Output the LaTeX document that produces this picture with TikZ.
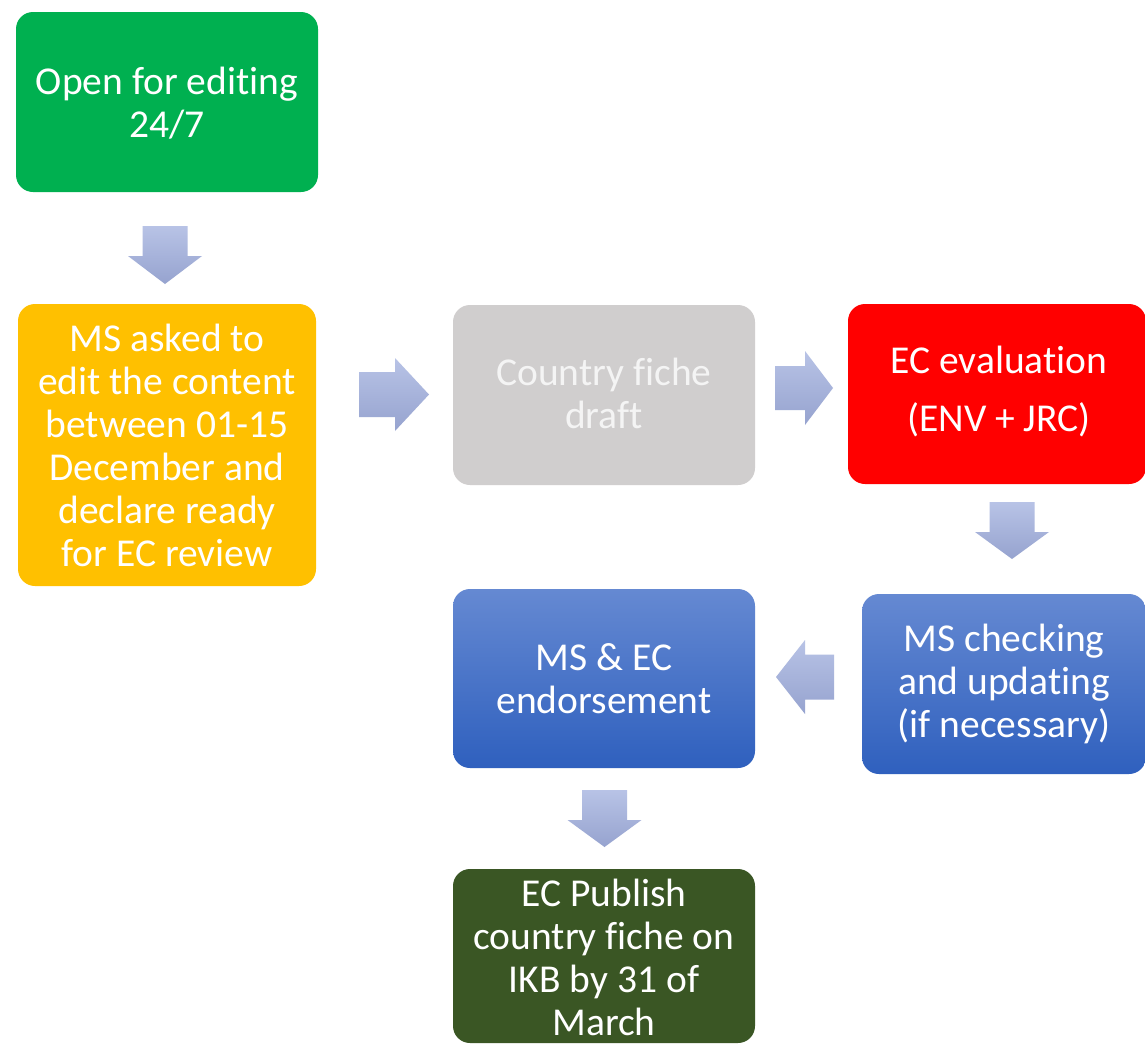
\documentclass[tikz,border=0pt]{standalone}
\usepackage{fontspec}
\setmainfont[Ligatures={NoCommon,NoContextual}]{Carlito}
\definecolor{cgreen}{HTML}{00B050}
\definecolor{corange}{HTML}{FFC000}
\definecolor{cgray}{HTML}{D0CECE}
\definecolor{cred}{HTML}{FF0000}
\definecolor{cbluetop}{HTML}{6589D2}
\definecolor{cbluebot}{HTML}{2F60BE}
\definecolor{cdkgreen}{HTML}{3A5624}
\definecolor{carrtop}{HTML}{B8C3E6}
\definecolor{carrbot}{HTML}{96A3CF}
\definecolor{cdrafttext}{HTML}{F4F4F4}
\tikzset{
  stepbox/.style={rectangle, rounded corners=17, draw=none, inner sep=0,
    align=center, text=white, font=\fontsize{39.5}{43}\selectfont},
  bluebox/.style={stepbox, top color=cbluetop, bottom color=cbluebot},
  arrowfill/.style={top color=carrtop, bottom color=carrbot, draw=none},
}
\begin{document}
\begin{tikzpicture}[x=1pt,y=-1pt]
\useasboundingbox (0,0) rectangle (1145,1044);
\fill[white] (0,0) rectangle (1145,1044);

\node[stepbox, fill=cgreen, minimum width=302, minimum height=180] (open) at (167,102) {};
\node[stepbox] (opent) at (167,103) {Open for editing\\24/7};

\node[stepbox, fill=corange, minimum width=298, minimum height=282] (ms) at (167,445) {MS asked to\\edit the content\\between 01-15\\December and\\declare ready\\for EC review};

\node[stepbox, fill=cgray, text=cdrafttext, minimum width=302, minimum height=180] (draft) at (604,395) {};
\node[stepbox, text=cdrafttext] (draftt) at (604,393) {Country fiche\\draft};

\node[stepbox, fill=cred, minimum width=298, minimum height=180] (eval) at (997,394) {};
\node[stepbox] (evalt) at (999,392) {EC evaluation\\[15pt](ENV + JRC)};

\node[bluebox, minimum width=284, minimum height=180] (check) at (1004,684) {MS checking\\and updating\\(if necessary)};

\node[bluebox, minimum width=302, minimum height=179] (endorse) at (604,678.5) {MS \& EC\\endorsement};

\node[stepbox, fill=cdkgreen, minimum width=302, minimum height=174] (publish) at (604,956) {};
\node[stepbox] (publisht) at (604,957) {EC Publish\\country fiche on\\IKB by 31 of\\March};

% block arrows (anchor = tail centre)
\coordinate (a1) at (165,226);
\coordinate (a2) at (359,394.5);
\coordinate (a3) at (775,388);
\coordinate (a4) at (1012,502);
\coordinate (a5) at (834,677);
\coordinate (a6) at (604.5,790);

\shade[arrowfill, shift={(a1)}] (-22.5,0) -- (22.5,0) -- (22.5,30) -- (37,30) -- (0,58) -- (-37,30) -- (-22.5,30) -- cycle;
\shade[arrowfill, shift={(a2)}] (0,-22.5) -- (36,-22.5) -- (36,-36.5) -- (70,0) -- (36,36.5) -- (36,22.5) -- (0,22.5) -- cycle;
\shade[arrowfill, shift={(a3)}] (0,-22) -- (30,-22) -- (30,-37) -- (58,0) -- (30,37) -- (30,22) -- (0,22) -- cycle;
\shade[arrowfill, shift={(a4)}] (-22.5,0) -- (22.5,0) -- (22.5,30) -- (37,30) -- (0,57) -- (-37,30) -- (-22.5,30) -- cycle;
\shade[arrowfill, shift={(a5)}] (0,-22.5) -- (-29,-22.5) -- (-29,-37) -- (-58,0) -- (-29,37) -- (-29,22.5) -- (0,22.5) -- cycle;
\shade[arrowfill, shift={(a6)}] (-22.5,0) -- (22.5,0) -- (22.5,30) -- (37,30) -- (0,57) -- (-37,30) -- (-22.5,30) -- cycle;
\end{tikzpicture}
\end{document}
